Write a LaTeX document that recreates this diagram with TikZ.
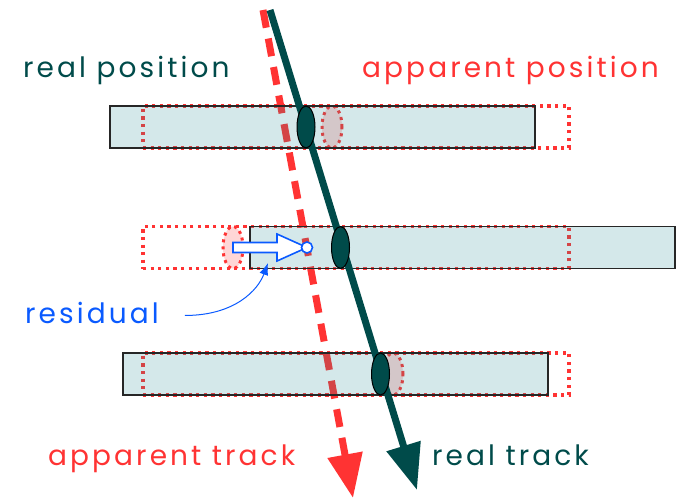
\documentclass[tikz,border=0pt]{standalone}
\usepackage{fontspec}
\setmainfont{Poppins}
\newfontfamily\lblfont[LetterSpace=11]{Poppins}
\usetikzlibrary{arrows.meta,shapes.geometric}
\definecolor{dkgreen}{HTML}{004B4A}
\definecolor{myred}{HTML}{FF3333}
\definecolor{myblue}{HTML}{0A5AFF}
\definecolor{barteal}{RGB}{40,140,150}
\tikzset{
  appbar/.style={draw=myred, line width=3.2pt, dash pattern=on 3.2pt off 4.4pt, inner sep=0pt, minimum width=426pt, minimum height=42pt},
  realbar/.style={draw=black!85, line width=1.3pt, fill=barteal, fill opacity=0.2, draw opacity=1, inner sep=0pt, minimum width=425pt, minimum height=42pt},
  apphit/.style={ellipse, draw=myred, line width=3pt, dash pattern=on 3pt off 4pt, fill=myred, fill opacity=0.2, draw opacity=1, inner sep=0pt, minimum width=20pt, minimum height=42pt},
  realhit/.style={ellipse, draw=black, line width=1pt, fill=dkgreen, inner sep=0pt, minimum width=18pt, minimum height=42pt},
  lbl/.style={inner sep=0pt, font=\lblfont\fontsize{28}{32}\selectfont},
  realtrk/.style={draw=dkgreen, line width=7pt, -{Triangle[length=46pt,width=34pt]}},
  apptrk/.style={draw=myred, line width=7pt, dash pattern=on 18pt off 11pt, -{Triangle[length=44pt,width=34pt]}},
  blockarr/.style={draw=myblue, line width=1.6pt, fill=white, line join=miter},
}
\begin{document}
\begin{tikzpicture}[x=1pt,y=-1pt]
\useasboundingbox (0,0) rectangle (681,501);
% apparent bars
\node[appbar] (a1) at (356,127) {};
\node[appbar] (a2) at (356,247.5) {};
\node[appbar] (a3) at (356,374) {};
% apparent hits
\node[apphit] (p1) at (332,127) {};
\node[apphit] (p2) at (233,247.5) {};
\node[apphit] (p3) at (393,374) {};
% apparent track
\coordinate (atop) at (263,10);
\coordinate (aend) at (353,498);
\draw[apptrk] (atop) -- (aend);
% real bars
\node[realbar] (r1) at (322.5,127) {};
\node[realbar] (r2) at (462.5,247.5) {};
\node[realbar] (r3) at (335.5,374) {};
% real track
\coordinate (rtop) at (270,10);
\coordinate (rend) at (417,490);
\draw[realtrk] (rtop) -- (rend);
% real hits
\node[realhit] (h1) at (306,127) {};
\node[realhit] (h2) at (340.5,247.5) {};
\node[realhit] (h3) at (380.5,374) {};
% residual block arrow
\draw[blockarr] (233,242.5) -- (277,242.5) -- (277,234) -- (307,247.5) -- (277,261) -- (277,252.5) -- (233,252.5) -- cycle;
\node[circle, draw=myblue, line width=1.6pt, fill=white, inner sep=0pt, minimum size=11pt] (c2) at (307,247.5) {};
% labels
\node[lbl, text=dkgreen, anchor=base west] (lrp) at (23,77) {real position};
\node[lbl, text=myred, anchor=base east] (lap) at (659,77) {apparent position};
\node[lbl, text=myblue, anchor=base west] (lres) at (25,323) {residual};
\node[lbl, text=myred, anchor=base west] (lat) at (48,465) {apparent track};
\node[lbl, text=dkgreen, anchor=base west] (lrt) at (432,465) {real track};
% residual connector
\coordinate (restip) at (268,263);
\draw[myblue, line width=1pt, -{Latex[length=12pt,width=9pt]}] ([xshift=26pt,yshift=-3pt]lres.east) .. controls +(50,0) and (258,290) .. (restip);
\end{tikzpicture}
\end{document}
